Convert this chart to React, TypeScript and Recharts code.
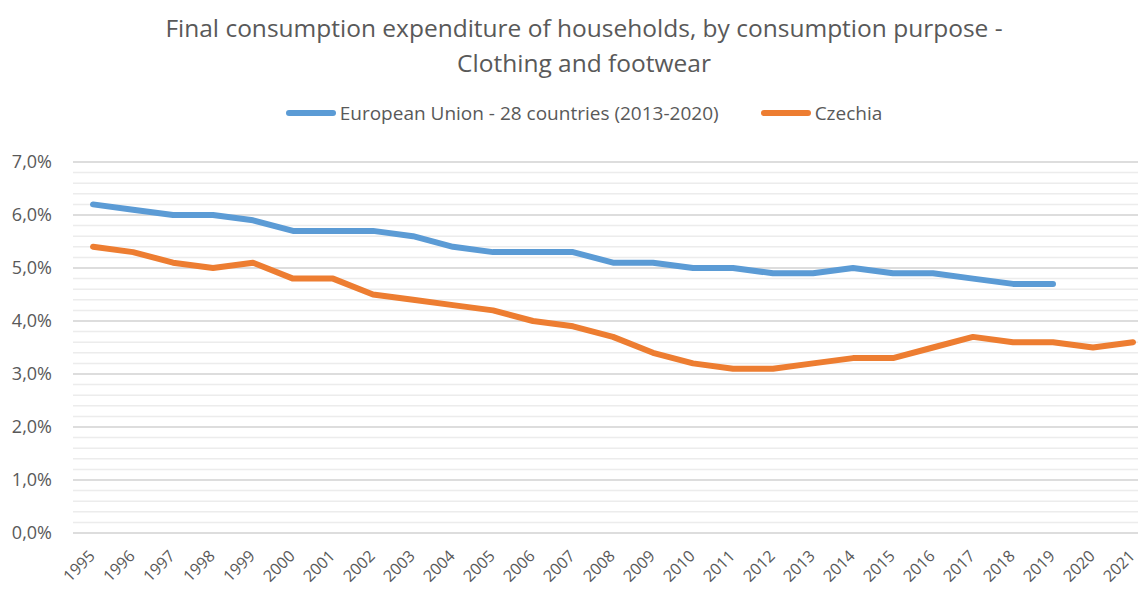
import { LineChart, Line, XAxis, YAxis, CartesianGrid, ReferenceLine } from 'recharts'

const years = [
  '1995', '1996', '1997', '1998', '1999', '2000', '2001', '2002', '2003',
  '2004', '2005', '2006', '2007', '2008', '2009', '2010', '2011', '2012',
  '2013', '2014', '2015', '2016', '2017', '2018', '2019', '2020', '2021',
]

const euValues: (number | null)[] = [
  6.2, 6.1, 6.0, 6.0, 5.9, 5.7, 5.7, 5.7, 5.6, 5.4, 5.3, 5.3, 5.3, 5.1,
  5.1, 5.0, 5.0, 4.9, 4.9, 5.0, 4.9, 4.9, 4.8, 4.7, 4.7, null, null,
]

const czValues = [
  5.4, 5.3, 5.1, 5.0, 5.1, 4.8, 4.8, 4.5, 4.4, 4.3, 4.2, 4.0, 3.9, 3.7,
  3.4, 3.2, 3.1, 3.1, 3.2, 3.3, 3.3, 3.5, 3.7, 3.6, 3.6, 3.5, 3.6,
]

// major gridlines every 1 %, minor every 0.2 %
const majorTicks = [0, 1, 2, 3, 4, 5, 6, 7]
const minorTicks = Array.from({ length: 36 }, (_, i) => (i * 2) / 10)

const SERIES = [
  { key: 'eu', label: 'European Union - 28 countries (2013-2020)', color: '#5B9BD5' },
  { key: 'cz', label: 'Czechia', color: '#ED7D31' },
]

const FONT = '"Open Sans", sans-serif'
const GREY = '#595959'

const data = years.map((year, i) => ({ year, eu: euValues[i], cz: czValues[i] }))

function YTick({ x, y, payload }: any) {
  const v = payload.value as number
  if (Math.abs(v - Math.round(v)) > 1e-6) return null
  return (
    <text x={x} y={y} dy="0.35em" textAnchor="end" fontSize={18} fill={GREY} fontFamily={FONT}>
      {v.toFixed(1).replace('.', ',')}%
    </text>
  )
}

function XTick({ x, y, payload }: any) {
  const tx = x - 1
  return (
    <text
      x={tx}
      y={y}
      dy="0.35em"
      textAnchor="end"
      fontSize={16}
      fill={GREY}
      fontFamily={FONT}
      transform={`rotate(-45, ${tx}, ${y})`}
    >
      {payload.value}
    </text>
  )
}

function ChartLegend() {
  return (
    <div
      style={{
        position: 'absolute', top: 100, left: 0, width: 1168, display: 'flex', justifyContent: 'center',
        gap: 42, fontFamily: FONT, fontSize: 19, color: GREY, lineHeight: '26px',
      }}
    >
      {SERIES.map((s) => (
        <div key={s.key} style={{ display: 'flex', alignItems: 'center' }}>
          <span style={{ display: 'inline-block', width: 50, height: 6, background: s.color, borderRadius: 3, marginRight: 4 }} />
          {s.label}
        </div>
      ))}
    </div>
  )
}

export default function App() {
  return (
    <div style={{ position: 'fixed', left: 0, top: 0, width: 1138, height: 589, overflow: 'hidden', background: '#fff' }}>
      <div
        style={{
          position: 'absolute', top: 10, left: 0, width: 1168, textAlign: 'center',
          fontFamily: FONT, fontSize: 24.5, color: GREY, lineHeight: '35px',
        }}
      >
        <div>Final consumption expenditure of households, by consumption purpose -</div>
        <div>Clothing and footwear</div>
      </div>
      <ChartLegend />
      <LineChart width={1160} height={589} data={data} margin={{ top: 162, right: 7, bottom: 0, left: 0 }}>
        <CartesianGrid vertical={false} stroke="#ececec" strokeWidth={1.5} />
        {majorTicks.map((t) => (
          <ReferenceLine key={t} y={t} stroke="#d6d6d6" strokeWidth={1.5} />
        ))}
        <XAxis
          dataKey="year"
          padding={{ left: 20, right: 20 }}
          axisLine={false}
          tickLine={false}
          tickSize={0}
          tickMargin={20}
          height={56}
          interval={0}
          tick={<XTick />}
        />
        <YAxis
          domain={[0, 7]}
          ticks={minorTicks}
          interval={0}
          axisLine={false}
          tickLine={false}
          tickSize={0}
          tickMargin={21}
          width={73}
          tick={<YTick />}
        />
        {SERIES.map((s) => (
          <Line
            key={s.key}
            dataKey={s.key}
            name={s.label}
            stroke={s.color}
            strokeWidth={6}
            dot={false}
            strokeLinecap="round"
            strokeLinejoin="round"
            isAnimationActive={false}
          />
        ))}
      </LineChart>
    </div>
  )
}
